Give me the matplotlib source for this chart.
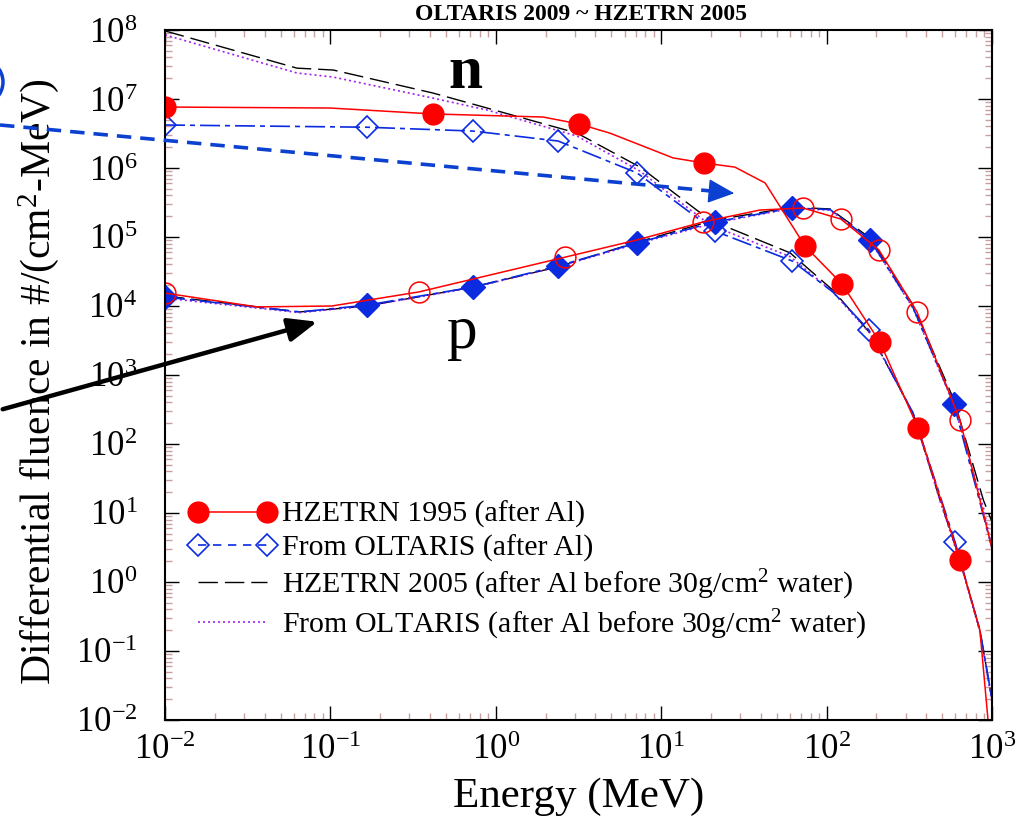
import numpy as np
import matplotlib
matplotlib.use("Agg")
import matplotlib.pyplot as plt
from matplotlib.lines import Line2D
from matplotlib.patches import Ellipse
from matplotlib.ticker import LogLocator, NullFormatter

plt.rcParams["font.family"] = ["Liberation Serif", "DejaVu Serif"]
plt.rcParams["mathtext.fontset"] = "custom"
plt.rcParams["mathtext.rm"] = "Liberation Serif"
plt.rcParams["mathtext.it"] = "Liberation Serif:italic"
plt.rcParams["mathtext.bf"] = "Liberation Serif:bold"

# HZETRN 1995 after Al -- neutrons (filled) and protons (open)
HZ95_N_E = [0.01, 0.0995, 0.417, 1.93, 3.18, 4.9, 11.8, 18.2, 27.9, 42.5,
            74, 124, 210, 357, 640, 845, 946, 990]
HZ95_N_F = [7.65e6, 7.4e6, 6.07e6, 5.48e6, 4.35e6, 3.2e6, 1.4e6, 1.18e6,
            1.03e6, 6.07e5, 7.4e4, 2.08e4, 3.0e3, 171, 2.08, 0.2, 0.01, 0.003]
HZ95_N_MARKS = [0, 2, 4, 7, 10, 11, 12, 13, 14]

HZ95_P_E = [0.01, 0.036, 0.102, 0.343, 2.62, 7.14, 17.9, 39.5, 72, 122,
            207, 352, 640, 1000]
HZ95_P_F = [1.54e4, 9.7e3, 1.0e4, 1.6e4, 5.1e4, 9.06e4, 1.65e5, 2.46e5,
            2.63e5, 1.82e5, 6.5e4, 8.2e3, 223, 3.1]
HZ95_P_MARKS = [0, 3, 4, 6, 8, 9, 10, 11, 12]

# OLTARIS after Al
OLT_N_E = [0.01, 0.166, 0.728, 2.38, 7.14, 21.1, 61.8, 109, 180, 333, 598,
           845, 1000]
OLT_N_F = [4.2e6, 3.9e6, 3.43e6, 2.46e6, 8.5e5, 1.22e5, 4.5e4, 1.6e4, 4.5e3,
           281, 3.8, 0.2, 0.02]
OLT_N_MARKS = [0, 1, 2, 3, 4, 5, 6, 8, 10]

OLT_P_E = [0.01, 0.0655, 0.166, 0.728, 2.38, 7.14, 21.1, 61.8, 105, 183,
           333, 589, 1000]
OLT_P_F = [1.35e4, 8.2e3, 1.03e4, 1.88e4, 3.8e4, 8.2e4, 1.65e5, 2.63e5,
           2.5e5, 9.06e4, 9.5e3, 380, 3.1]
OLT_P_MARKS = [0, 2, 3, 4, 5, 6, 7, 9, 11]

# HZETRN 2005 / OLTARIS, after Al before 30 g/cm2 water
HZ05_N_E = [0.01, 0.0628, 0.104, 0.417, 0.885, 3.10, 7.45, 19.7, 60.1, 109,
            183, 333, 485, 640, 845, 1000]
HZ05_N_F = [9.7e7, 2.8e7, 2.63e7, 1.22e7, 7.4e6, 3.2e6, 1.03e6, 1.76e5,
            5.9e4, 1.7e4, 4.06e3, 281, 15.4, 2.08, 0.2, 0.0195]
OLTW_N_F = [8.5e7, 2.38e7, 2.08e7, 1.03e7, 6.93e6, 2.9e6, 9.0e5, 1.5e5,
            5.2e4, 1.6e4, 4.0e3, 281, 15, 2.0, 0.19, 0.018]

HZ05_P_E = [0.01, 0.0655, 0.166, 0.728, 2.38, 7.14, 21.1, 61.8, 105, 183,
            333, 589, 887, 1000]
HZ05_P_F = [1.4e4, 8.2e3, 1.0e4, 1.88e4, 3.7e4, 8.4e4, 1.76e5, 2.7e5,
            2.55e5, 9.7e4, 1.03e4, 435, 15.4, 7.4]
OLTW_P_F = [1.3e4, 8.0e3, 1.0e4, 1.85e4, 3.7e4, 8.0e4, 1.6e5, 2.6e5,
            2.45e5, 9.0e4, 9.3e3, 370, 12, 3.0]

RED = "#ff0000"
BLUE = "#0a2be0"
PURPLE = "#a020f0"
MINOR = "#c9a0a0"

W, H = 1023, 822


def fig_xy(x, y):
    # pixel position (from top-left) -> figure fraction
    return x / W, 1 - y / H


fig = plt.figure(figsize=(W / 100, H / 100), dpi=100)
ax = fig.add_axes([0.1613, 0.1241, 0.8084, 0.8394])

DASHDOT = (0, (12, 3, 3, 3))
LONGDASH = (0, (14, 5))
DOTTED = (0, (1.2, 1.8))

# water-shielded curves underneath
ax.plot(HZ05_N_E, HZ05_N_F, color="black", lw=1, ls=LONGDASH)
ax.plot(HZ05_P_E, HZ05_P_F, color="black", lw=1, ls=LONGDASH)
ax.plot(HZ05_N_E, OLTW_N_F, color=PURPLE, lw=1.2, ls=DOTTED)
ax.plot(HZ05_P_E, OLTW_P_F, color=PURPLE, lw=1.2, ls=DOTTED)

# OLTARIS after Al
ax.plot(OLT_N_E, OLT_N_F, color=BLUE, lw=1.2, ls=DASHDOT)
ax.plot(OLT_P_E, OLT_P_F, color=BLUE, lw=1.2, ls=DASHDOT)
ax.plot(np.array(OLT_N_E)[OLT_N_MARKS], np.array(OLT_N_F)[OLT_N_MARKS],
        ls="none", marker="D", ms=11, mfc="none", mec=BLUE, mew=1.2)
ax.plot(np.array(OLT_P_E)[OLT_P_MARKS], np.array(OLT_P_F)[OLT_P_MARKS],
        ls="none", marker="D", ms=12, mfc=BLUE, mec=BLUE)

# HZETRN 1995 after Al
ax.plot(HZ95_N_E, HZ95_N_F, color=RED, lw=1.1)
ax.plot(HZ95_P_E, HZ95_P_F, color=RED, lw=1.1)
ax.plot(np.array(HZ95_N_E)[HZ95_N_MARKS], np.array(HZ95_N_F)[HZ95_N_MARKS],
        ls="none", marker="o", ms=15, mfc=RED, mec=RED)
ax.plot(np.array(HZ95_P_E)[HZ95_P_MARKS], np.array(HZ95_P_F)[HZ95_P_MARKS],
        ls="none", marker="o", ms=15, mfc="none", mec=RED, mew=1.1)

ax.set_xscale("log")
ax.set_yscale("log")
ax.set_xlim(1e-2, 1e3)
ax.set_ylim(1e-2, 1e8)

for axis in (ax.xaxis, ax.yaxis):
    axis.set_major_locator(LogLocator(base=10, numticks=30))
    axis.set_minor_locator(LogLocator(base=10, subs=np.arange(2, 10), numticks=300))
    axis.set_minor_formatter(NullFormatter())
ax.tick_params(which="major", direction="in", length=10, width=1,
               top=True, right=True, labelsize=25, color="black")
ax.tick_params(which="minor", direction="in", length=5, width=1,
               top=True, right=True, color=MINOR)
ax.tick_params(axis="y", which="major", pad=20)
ax.tick_params(axis="x", which="major", pad=10)
for sp in ax.spines.values():
    sp.set_linewidth(1.5)

ax.set_xlabel("Energy (MeV)", fontsize=31)
ax.set_ylabel("Differential fluence in #/(cm$^2$-MeV)", fontsize=30)
ax.xaxis.set_label_coords(0.5, -0.083)
ax.yaxis.set_label_coords(-0.126, 0.49)

fig.text(*fig_xy(465, 88), "n", fontsize=44, fontweight="bold", ha="center", va="baseline")
fig.text(*fig_xy(462, 348), "p", fontsize=44, ha="center", va="baseline")

fig.text(*fig_xy(581, 20), "OLTARIS 2009 ~ HZETRN 2005", fontsize=17,
         fontweight="bold", ha="center", va="baseline")

handles = [
    Line2D([], [], color=RED, lw=1.1, marker="o", ms=15, mfc=RED, mec=RED),
    Line2D([], [], color=BLUE, lw=1.2, ls=(0, (5, 4)), marker="D", ms=11,
           mfc="none", mec=BLUE, mew=1.2),
    Line2D([], [], color="black", lw=1, ls=LONGDASH),
    Line2D([], [], color=PURPLE, lw=1.2, ls=DOTTED),
]
labels = [
    "HZETRN 1995 (after Al)",
    "From OLTARIS (after Al)",
    "HZETRN 2005 (after Al before 30g/cm$^2$ water)",
    "From OLTARIS (after Al before 30g/cm$^2$ water)",
]
fig.legend(handles, labels, loc="upper left", bbox_to_anchor=fig_xy(189, 501),
           frameon=False, fontsize=21.5, numpoints=2, handlelength=2.9,
           handletextpad=0.2, labelspacing=0.2, borderpad=0, borderaxespad=0)

# pointer arrows running in from the left margin
x0, y0 = fig_xy(0, 125)
x1, y1 = fig_xy(722, 192)
fig.add_artist(Line2D([x0, x1], [y0, y1], transform=fig.transFigure,
                      color="#0b40d0", lw=2.6, ls=(0, (4, 2.5))))
ax.annotate("", xy=fig_xy(737, 193.5), xytext=fig_xy(720, 192),
            xycoords="figure fraction", textcoords="figure fraction",
            arrowprops=dict(arrowstyle="-|>,head_length=1.2,head_width=0.55",
                            color="#0b40d0", lw=1, mutation_scale=14))
ax.annotate("", xy=fig_xy(320, 321), xytext=fig_xy(0, 410),
            xycoords="figure fraction", textcoords="figure fraction",
            arrowprops=dict(arrowstyle="-|>,head_length=1.1,head_width=0.45",
                            color="black", lw=3.2, mutation_scale=16))
cx, cy = fig_xy(-20, 82)
fig.add_artist(Ellipse((cx, cy), 46 / W, 46 / H, transform=fig.transFigure,
                       fill=False, edgecolor="#0b40d0", lw=2.5))

fig.savefig("out.png", dpi=100)
